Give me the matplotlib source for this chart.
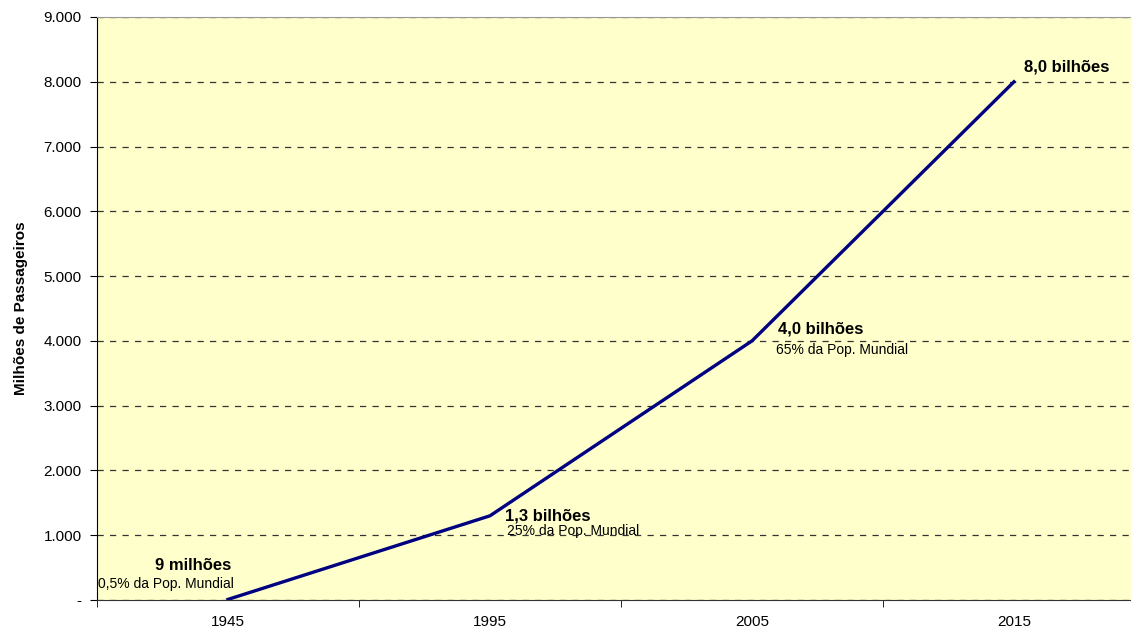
import matplotlib.pyplot as plt
import numpy as np

anos = ['1945', '1995', '2005', '2015']
passageiros = [9, 1300, 4000, 8000]  # milhões
rotulos = ['9 milhões', '1,3 bilhões', '4,0 bilhões', '8,0 bilhões']
subrotulos = ['0,5% da Pop. Mundial', '25% da Pop. Mundial', '65% da Pop. Mundial', '']
yticks = np.arange(0, 9001, 1000)

plt.rcParams['font.family'] = ['Liberation Sans', 'DejaVu Sans']

fig = plt.figure(figsize=(11.31, 6.29), dpi=100)
ax = fig.add_axes([97/1131, 1 - 600/629, 1 - 97/1131, (600-17)/629])
ax.set_facecolor('#FFFFCC')

x = np.arange(len(anos))
ax.plot(x, passageiros, color='#000080', linewidth=2.4, solid_joinstyle='miter')

ax.set_xlim(-0.5, 3.5 - 14/262)
ax.set_ylim(0, 9000)

ax.set_xticks(x)
ax.set_xticklabels(anos, fontsize=11)
ax.set_xticks(np.arange(-0.5, 3.5, 1), minor=True)
ax.tick_params(axis='x', which='major', length=0, pad=11)
ax.tick_params(axis='x', which='minor', length=5, direction='out', color='black')

ax.set_yticks(yticks)
ax.set_yticklabels(['-' if v == 0 else f'{v:,}'.replace(',', '.') for v in yticks], fontsize=11)
ax.tick_params(axis='y', length=5, direction='out', pad=6)

ax.yaxis.grid(True, linestyle=(0, (5, 5)), color='#333333', linewidth=0.9)
ax.set_axisbelow(True)

ax.spines['right'].set_visible(False)
ax.spines['top'].set_color('#999999')
ax.spines['left'].set_color('black')
ax.spines['bottom'].set_color('#333333')

ax.set_ylabel('Milhões de Passageiros', fontsize=11, fontweight='bold', labelpad=11)

# rótulos dos pontos (deslocamento em pixels)
desl_rot = [(-35, 34, 'center'), (15, 0, 'left'), (26, 12, 'left'), (10, 15, 'left')]
desl_sub = [(-130, 15, 'left'), (17, -15, 'left'), (24, -9, 'left'), (0, 0, 'left')]
for i in range(len(anos)):
    dx, dy, ha = desl_rot[i]
    ax.annotate(rotulos[i], (x[i], passageiros[i]), xytext=(dx, dy),
                textcoords='offset pixels', ha=ha, va='center',
                fontsize=12, fontweight='bold')
    if subrotulos[i]:
        dx, dy, ha = desl_sub[i]
        ax.annotate(subrotulos[i], (x[i], passageiros[i]), xytext=(dx, dy),
                    textcoords='offset pixels', ha=ha, va='center', fontsize=10)

fig.savefig('out.png', dpi=100)
